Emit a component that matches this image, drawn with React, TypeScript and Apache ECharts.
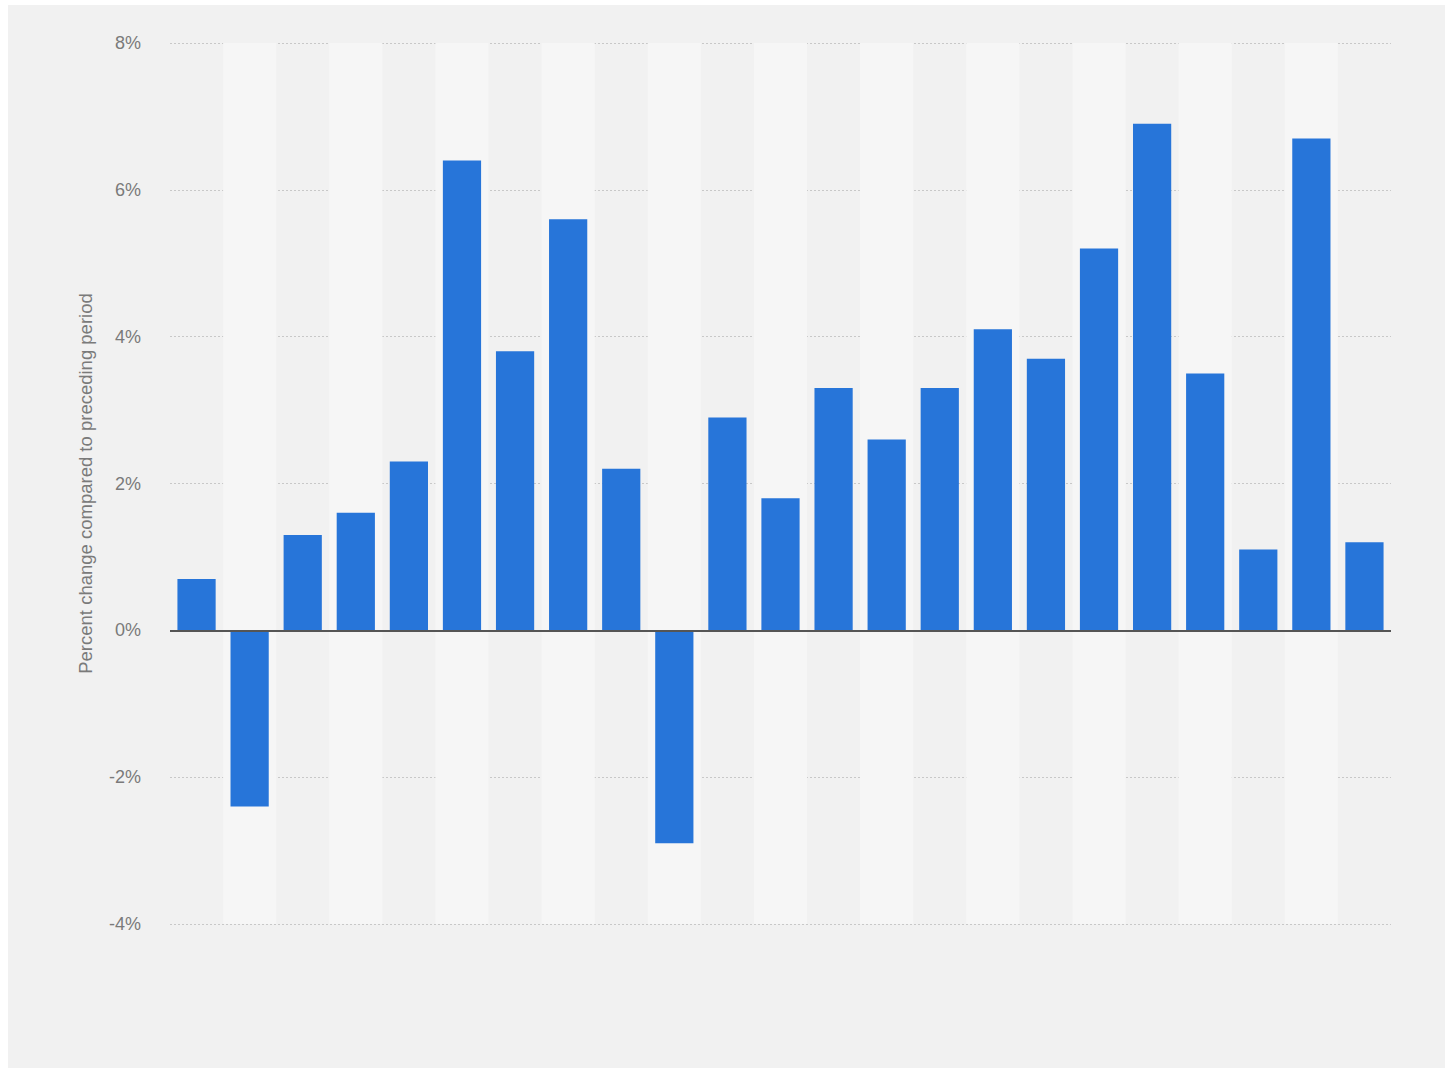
import React, { useEffect, useRef } from "react";
import * as echarts from "echarts";

const categories: string[] = [
  "P1", "P2", "P3", "P4", "P5", "P6", "P7", "P8", "P9", "P10", "P11", "P12",
  "P13", "P14", "P15", "P16", "P17", "P18", "P19", "P20", "P21", "P22", "P23",
];
const values: number[] = [
  0.7, -2.4, 1.3, 1.6, 2.3, 6.4, 3.8, 5.6, 2.2, -2.9, 2.9, 1.8,
  3.3, 2.6, 3.3, 4.1, 3.7, 5.2, 6.9, 3.5, 1.1, 6.7, 1.2,
];
const yTicks = { min: -4, max: 8, interval: 2 };
const yTitle = "Percent change compared to preceding period";

export default function App() {
  const ref = useRef<HTMLDivElement>(null);
  useEffect(() => {
    document.body.style.margin = "0";
    if (!ref.current) return;
    const chart = echarts.init(ref.current, undefined, { renderer: "svg" });
    const font = "Liberation Sans, Arial, sans-serif";
    chart.setOption({
      animation: false,
      backgroundColor: "#ffffff",
      graphic: [
        {
          type: "rect",
          silent: true,
          z: -10,
          shape: { x: 8, y: 5, width: 1437, height: 1063 },
          style: { fill: "#f1f1f1" },
        },
      ],
      grid: { left: 170, right: 62, top: 43, bottom: 144, containLabel: false },
      xAxis: {
        type: "category",
        data: categories,
        axisLine: { show: false },
        axisTick: { show: false },
        axisLabel: { show: false },
        splitLine: { show: false },
        splitArea: {
          show: true,
          areaStyle: { color: ["rgba(255,255,255,0)", "#f6f6f6"] },
        },
      },
      yAxis: {
        type: "value",
        min: yTicks.min,
        max: yTicks.max,
        interval: yTicks.interval,
        name: yTitle,
        nameLocation: "middle",
        nameGap: 75,
        nameRotate: 90,
        nameTextStyle: {
          color: "#7a7a7a",
          fontSize: 18.5,
          fontFamily: font,
        },
        axisLine: { show: false },
        axisTick: { show: false },
        axisLabel: {
          formatter: (v: number) => `${v}%`,
          color: "#7a7a7a",
          fontSize: 18,
          margin: 29,
          fontFamily: font,
        },
        splitLine: {
          show: true,
          lineStyle: { color: "#c8c8c8", type: [2, 2], width: 1 },
        },
      },
      series: [
        {
          type: "bar",
          data: values,
          barCategoryGap: "28%",
          itemStyle: { color: "#2775d9" },
          markLine: {
            silent: true,
            symbol: "none",
            label: { show: false },
            lineStyle: { color: "#555555", width: 2, type: "solid" },
            data: [{ yAxis: 0 }],
          },
        },
      ],
    });
    return () => chart.dispose();
  }, []);
  return <div ref={ref} style={{ width: 1453, height: 1068 }} />;
}
